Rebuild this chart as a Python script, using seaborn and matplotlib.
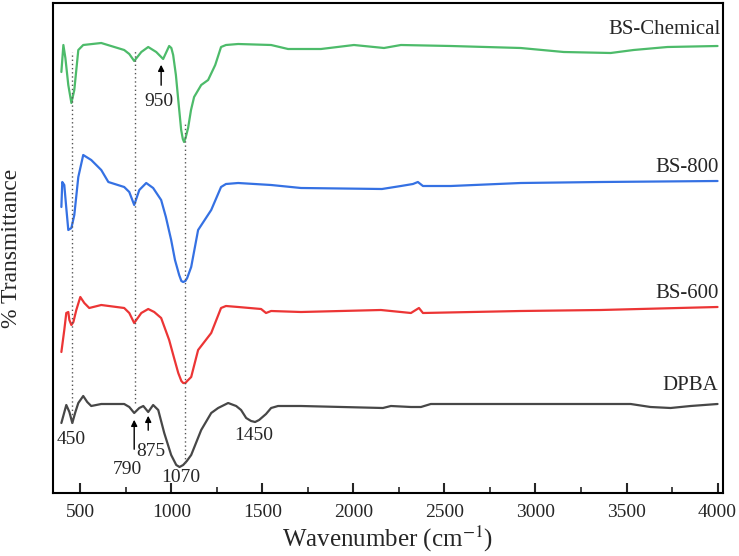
import numpy as np
import pandas as pd
import matplotlib
matplotlib.use("Agg")
import matplotlib.pyplot as plt
import seaborn as sns

# -----------------------------
# DATA (wavenumber, arbitrary transmittance)
# -----------------------------
chem_wn = [396, 407, 418, 434, 451, 467, 489, 516, 615, 741, 769, 796, 835, 873, 917, 955,
           988, 1000, 1010, 1025, 1038, 1054, 1063, 1070, 1078, 1092, 1108, 1125, 1164, 1202,
           1241, 1273, 1300, 1367, 1548, 1641, 1822, 2003, 2168, 2261, 2535, 2919, 3155,
           3413, 3539, 3725, 4000]
chem_t = [428, 455, 442, 415, 397, 410, 450, 455, 457, 450, 446, 439, 448, 453, 448, 441,
          454, 452, 445, 425, 400, 370, 361, 358, 362, 372, 390, 403, 415, 420,
          435, 453, 455, 456, 455, 451, 451, 455, 452, 455, 454, 452, 448,
          447, 450, 453, 454]

bs800_wn = [396, 401, 412, 423, 434, 451, 467, 489, 516, 560, 615, 654, 741, 769, 796, 824,
            862, 900, 944, 970, 999, 1020, 1043, 1055, 1065, 1077, 1087, 1109, 1147, 1219,
            1273, 1300, 1367, 1548, 1712, 2157, 2261, 2327, 2354, 2382, 2535, 2919, 3358,
            4000]
bs800_t = [293, 318, 315, 292, 270, 272, 285, 323, 345, 340, 330, 318, 313, 308, 295, 310,
           317, 312, 300, 283, 260, 240, 225, 219, 218, 219, 222, 233, 270, 290,
           313, 316, 317, 315, 312, 311, 314, 316, 318, 314, 314, 317, 318,
           319]

bs600_wn = [396, 412, 423, 434, 440, 451, 462, 478, 500, 522, 549, 615, 741, 769, 796, 835,
            873, 906, 944, 988, 1015, 1038, 1055, 1065, 1077, 1087, 1109, 1147, 1219, 1273,
            1300, 1367, 1493, 1520, 1548, 1712, 2151, 2316, 2360, 2382, 2919, 3358, 4000]
bs600_t = [148, 170, 187, 188, 180, 175, 178, 190, 203, 197, 192, 195, 192, 187, 177, 187,
           191, 188, 182, 160, 142, 127, 119, 117, 117, 119, 123, 150, 167, 192,
           194, 193, 191, 187, 189, 188, 190, 187, 192, 187, 189, 190, 193]

dpba_wn = [396, 423, 440, 456, 473, 489, 516, 538, 560, 615, 741, 769, 796, 824, 846, 873,
           900, 928, 961, 999, 1027, 1045, 1065, 1085, 1109, 1164, 1219, 1257, 1312, 1356,
           1383, 1411, 1438, 1460, 1482, 1520, 1548, 1586, 1712, 2162, 2206, 2316, 2371,
           2425, 3523, 3632, 3742, 3852, 4000]
dpba_t = [77, 95, 88, 77, 88, 97, 104, 98, 94, 96, 96, 93, 87, 92, 94, 88,
          95, 90, 67, 45, 35, 33, 35, 39, 45, 70, 87, 92, 97, 94,
          90, 82, 79, 78, 80, 86, 92, 94, 94, 92, 94, 93, 93,
          96, 96, 93, 92, 94, 96]

series_names = ["BS-Chemical", "BS-800", "BS-600", "DPBA"]
series_colors = ["#4dbb6a", "#3571e3", "#ec3535", "#474747"]
label_y = [470, 333, 207, 115]

# dotted guide lines: wavenumber, top, bottom
guide_wn = [455, 798, 1076]
guide_top = [448, 450, 378]
guide_bottom = [77, 97, 37]

# -----------------------------
# BUILD LONG TABLE
# -----------------------------
frames = []
for name, wn, t in [("BS-Chemical", chem_wn, chem_t), ("BS-800", bs800_wn, bs800_t),
                    ("BS-600", bs600_wn, bs600_t), ("DPBA", dpba_wn, dpba_t)]:
    frames.append(pd.DataFrame({"wn": wn, "T": t, "sample": name}))
df = pd.concat(frames, ignore_index=True)

# -----------------------------
# PLOT
# -----------------------------
sns.set_style("white")
plt.rcParams["font.family"] = ["Liberation Serif", "DejaVu Serif"]
plt.rcParams["mathtext.fontset"] = "stix"

fig = plt.figure(figsize=(7.39, 5.56), dpi=100)
ax = fig.add_axes([53 / 739, 63 / 556, 670 / 739, 490 / 556])

sns.lineplot(data=df, x="wn", y="T", hue="sample", hue_order=series_names,
             palette=series_colors, linewidth=1.6, legend=False, ax=ax,
             estimator=None, sort=False)

ax.vlines(guide_wn, guide_bottom, guide_top, colors="#555555",
          linestyles=(0, (1, 2)), linewidth=1.0)

for name, col, ly in zip(series_names, series_colors, label_y):
    ax.text(4005 if name != "BS-Chemical" else 4018, ly, name, ha="right",
            va="center", fontsize=15)

# peak annotations
arrow = dict(arrowstyle="-|>", color="black", lw=1.0, mutation_scale=9)
ax.annotate("", xy=(944, 438), xytext=(944, 412), arrowprops=arrow)
ax.text(933, 399, "950", ha="center", va="center", fontsize=14)
ax.text(451, 60, "450", ha="center", va="center", fontsize=14)
ax.annotate("", xy=(796, 83), xytext=(796, 48), arrowprops=arrow)
ax.text(758, 30, "790", ha="center", va="center", fontsize=14)
ax.annotate("", xy=(873, 87), xytext=(873, 67), arrowprops=arrow)
ax.text(889, 48, "875", ha="center", va="center", fontsize=14)
ax.text(1054, 22, "1070", ha="center", va="center", fontsize=14)
ax.text(1454, 65, "1450", ha="center", va="center", fontsize=14)

ax.set_xlim(350, 4030)
ax.set_ylim(7, 497)
ax.set_xticks(np.arange(500, 4001, 500))
ax.set_xticks(np.arange(750, 4000, 500), minor=True)
ax.set_yticks([])
ax.tick_params(axis="x", which="major", direction="in", length=7, width=1.5,
               labelsize=14, pad=8, bottom=True)
ax.tick_params(axis="x", which="minor", direction="in", length=4, width=1.2, bottom=True)
for sp in ax.spines.values():
    sp.set_linewidth(1.5)
    sp.set_color("black")

ax.set_xlabel("Wavenumber (cm$^{-1}$)", fontsize=18, labelpad=2)
ax.set_ylabel("% Transmittance", fontsize=17, labelpad=22)

fig.savefig("out.png", dpi=100)
plt.close()
